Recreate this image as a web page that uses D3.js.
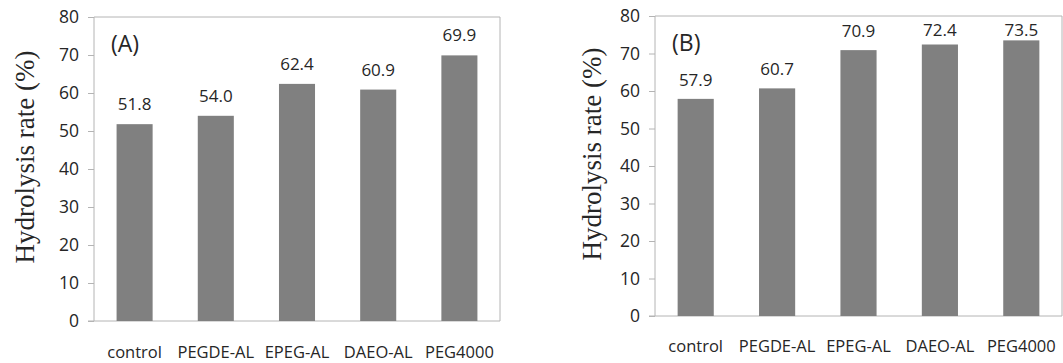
<!DOCTYPE html>
<html>
<head>
  <script src="https://d3js.org/d3.v7.min.js"></script>
  <style>
    body { margin: 0; background: white; }
    .tick text, .val, .cat, .tag { font-family: "Open Sans", sans-serif; fill: #262626; }
    .ytitle { font-family: "Liberation Serif", "Times New Roman", serif; fill: #262626; }
  </style>
</head>
<body>
  <svg id="chart" width="1063" height="363"></svg>
  <script>
    // data
    const categories = ["control", "PEGDE-AL", "EPEG-AL", "DAEO-AL", "PEG4000"];
    const valuesA = [51.8, 54.0, 62.4, 60.9, 69.9];
    const valuesB = [57.9, 60.7, 70.9, 72.4, 73.5];
    const yTicks = [0, 10, 20, 30, 40, 50, 60, 70, 80];
    const panelTags = ["(A)", "(B)"];
    const yTitle = "Hydrolysis rate (%)";

    const svg = d3.select("#chart");
    const axisColor = "#b4b4b4";

    function drawPanel(values, tag, box) {
      const g = svg.append("g");

      const x = d3.scaleBand().domain(categories)
                  .range([box.left, box.right])
                  .paddingInner(0.556).paddingOuter(0.278);
      const y = d3.scaleLinear().domain([0, 80]).range([box.bottom, box.top]);

      // frame top + right
      g.append("path")
        .attr("d", `M${box.left},${box.top}H${box.right}V${box.bottom}`)
        .attr("fill", "none").attr("stroke", axisColor);

      const yAxis = g.append("g")
        .attr("transform", `translate(${box.left},0)`)
        .call(d3.axisLeft(y).tickValues(yTicks).tickSize(6).tickPadding(9));
      yAxis.selectAll("line, path").attr("stroke", axisColor);
      yAxis.select(".domain").attr("d", `M0,${box.top}V${box.bottom}`);
      yAxis.selectAll("text").attr("font-size", "17.5px");

      g.append("line")
        .attr("x1", box.left - 6).attr("x2", box.right)
        .attr("y1", y(0)).attr("y2", y(0))
        .attr("stroke", axisColor);

      g.selectAll("rect.bar").data(values)
        .join("rect")
        .attr("class", "bar")
        .attr("x", (d, i) => x(categories[i]))
        .attr("width", x.bandwidth())
        .attr("y", d => y(d))
        .attr("height", d => y(0) - y(d))
        .attr("fill", "#808080");

      g.selectAll("text.val").data(values)
        .join("text")
        .attr("class", "val")
        .attr("x", (d, i) => x(categories[i]) + x.bandwidth() / 2)
        .attr("y", d => Math.max(y(d) - box.labelGap, box.top + 20))
        .attr("text-anchor", "middle")
        .attr("font-size", "17px")
        .text(d => d.toFixed(1));

      g.selectAll("text.cat").data(categories)
        .join("text")
        .attr("class", "cat")
        .attr("x", d => x(d) + x.bandwidth() / 2)
        .attr("y", box.bottom + box.catGap)
        .attr("text-anchor", "middle")
        .attr("font-size", "16.5px")
        .text(d => d);

      g.append("text")
        .attr("class", "tag")
        .attr("x", box.left + 17)
        .attr("y", box.top + 35)
        .attr("font-size", "23px")
        .text(tag);

      g.append("text")
        .attr("class", "ytitle")
        .attr("transform", `translate(${box.titleX},${(box.top + box.bottom) / 2 - 12}) rotate(-90)`)
        .attr("text-anchor", "middle")
        .attr("font-size", "27px")
        .text(yTitle);
    }

    drawPanel(valuesA, panelTags[0], { left: 94, right: 500, top: 17, bottom: 321, labelGap: 14, catGap: 37, titleX: 34 });
    drawPanel(valuesB, panelTags[1], { left: 655, right: 1062, top: 16, bottom: 316, labelGap: 13, catGap: 36, titleX: 601 });
  </script>
</body>
</html>
